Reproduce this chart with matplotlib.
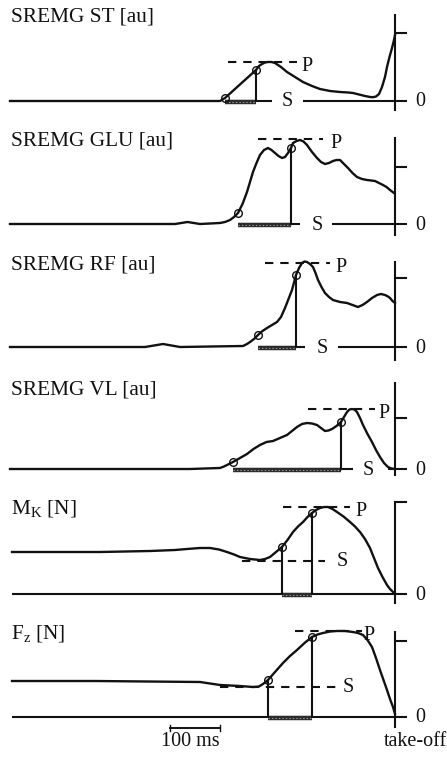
import numpy as np
import matplotlib
matplotlib.use("Agg")
import matplotlib.pyplot as plt

plt.rcParams['font.family'] = ['Liberation Serif', 'DejaVu Serif']
plt.rcParams['mathtext.fontset'] = 'custom'
plt.rcParams['mathtext.rm'] = 'Liberation Serif'
plt.rcParams['lines.scale_dashes'] = False

# ---------------- data (time in ms relative to take-off) ----------------
titles = ["SREMG ST [au]", "SREMG GLU [au]", "SREMG RF [au]", "SREMG VL [au]",
          r"M$_{\mathrm{K}}$ [N]", r"F$_{\mathrm{z}}$ [N]"]

st_t = [-770, -350, -340, -278, -272, -266, -260, -254, -247, -240, -228, -216, -200, -184, -166, -150,
        -130, -110, -94, -84, -72, -60, -50, -44, -38, -32, -26, -20, -16, -11, -6, -2, 0]
st_v = [0, 0, 3, 31, 35, 37, 38.5, 39, 39, 38, 34, 29, 24, 19, 15, 12,
        10, 9, 8.5, 8, 6.5, 5, 4, 3.8, 4.5, 7, 14, 24, 34, 44, 53, 61, 66]

glu_t = [-770, -440, -415, -390, -350, -340, -330, -322, -314, -305, -296, -290, -284, -277, -270, -262,
         -254, -247, -240, -233, -226, -220, -214, -208, -204, -197, -190, -183, -176, -166, -156, -148,
         -140, -132, -124, -117, -110, -102, -94, -85, -76, -66, -56, -48, -40, -32, -24, -17, -10, -2]
glu_v = [0, 0, 2, 0, 1, 2, 4, 7, 11, 20, 32, 42, 52, 61, 69, 74,
         76, 74, 71, 68, 66, 67, 71, 76, 81, 83, 84, 82.5, 79, 72, 66, 62,
         60, 61, 63, 64, 64, 60, 56, 51, 47, 45, 44, 43.5, 43, 41, 39, 37, 34, 31]

rf_t = [-770, -500, -464, -430, -304, -296, -290, -282, -274, -265, -256, -246, -236, -228, -220, -213,
        -206, -198, -192, -186, -181, -176, -170, -164, -159, -154, -147, -140, -132, -124, -110, -96,
        -85, -74, -65, -56, -46, -36, -28, -20, -14, -10, -5, 0]
rf_v = [0, 0, 3, 0, 1, 3, 5, 8, 12, 16, 19, 22, 25, 30, 39, 48,
        57, 72, 79, 84, 85.5, 85, 83, 80, 74, 67, 60, 54, 50, 47, 45, 44,
        42, 40, 42, 45, 49, 52, 53, 52, 50.5, 49, 46, 44]

vl_t = [-770, -410, -350, -342, -336, -324, -310, -296, -283, -270, -257, -244, -230, -216, -206, -196,
        -186, -176, -166, -156, -148, -140, -133, -126, -117, -108, -102, -96, -91, -86, -81, -76,
        -70, -64, -55, -46, -38, -30, -22, -14, -7, 0]
vl_v = [0, 0, 1, 2.5, 4, 7, 11, 15, 20, 24, 27, 28, 31, 34, 38, 42,
        45, 46, 45.5, 44, 41, 38, 38.5, 40, 43, 47, 52, 57, 59.5, 60, 59.5, 57,
        51, 44, 35, 27, 19, 12, 6, 2, 0.5, 0]

mk_t = [-766, -590, -490, -440, -416, -390, -370, -352, -336, -322, -310, -290, -270, -260, -250, -238,
        -226, -215, -204, -194, -184, -175, -166, -158, -150, -142, -134, -125, -116, -103, -90, -80,
        -70, -60, -50, -42, -34, -25, -16, -10, -4, 0]
mk_v = [42, 42, 43, 44, 45, 46, 46, 44.5, 42, 39.5, 37, 35, 34, 35, 37, 42,
        47, 54, 62, 67.5, 72, 77, 81, 84, 86, 87, 87, 85, 82, 77.5, 72, 67.5,
        62, 55, 46, 36, 26, 17, 9, 5, 2, 0]

fz_t = [-766, -600, -390, -370, -350, -330, -310, -284, -272, -264, -254, -240, -224, -210, -196, -181,
        -166, -155, -144, -130, -116, -100, -84, -74, -64, -55, -46, -38, -30, -23, -16, -10, -4, 0]
fz_v = [36, 36, 35, 33.5, 32, 31.5, 31, 30, 30.5, 33, 37, 45, 54, 61, 67, 74,
        80, 82.5, 84, 85.5, 86, 86, 85, 84, 82, 77, 70, 59, 47, 37, 27, 18, 10, 3]

series_t = [st_t, glu_t, rf_t, vl_t, mk_t, fz_t]
series_v = [st_v, glu_v, rf_v, vl_v, mk_v, fz_v]

onset_ms = [-340, -314, -274, -324, -226, -254]     # S crossing
peak_ms = [-278, -208, -198, -108, -166, -166]      # P crossing
s_level = [0, 0, 0, 0, 33, 30]
p_level = [39, 85, 84, 60, 87, 86]
tick_level = [68, 57, 69, 51, 92, 76]
axis_top = [86, 86, 85, 86, 92, 85]
axis_bottom = [-9, -11, -13, -6, -9, -10]

# ---------------- layout ----------------
W, H = 447, 761
baselines_px = [101, 224, 347, 469, 594, 717]
p_dash = [(-334, -196), (-274, -144), (-260, -130), (-174, -40), (-224, -90), (-200, -66)]
p_lab = [-176, -118, -108, -22, -68, -52]
s_end = [-246, -190, -180, -84, -140, -116]
s_start_force = [None, None, None, None, -306, -350]
s_lab = [-216, -156, -146, -54, -106, -94]
zero_start = [-184, -126, -114, -14, -766, -766]
title_y = [84, 83, 82, 79, 85, 83]

fig = plt.figure(figsize=(W / 100, H / 100), dpi=100)
ink = '#111111'
FS = 14.5
FT = 15.3

for i in range(6):
    b = baselines_px[i]
    top, bot = b - 110, b + 40
    ax = fig.add_axes([0, 1 - bot / H, 1, (bot - top) / H])
    ax.set_xlim(-790, 104)
    ax.set_ylim(-40, 110)
    ax.axis('off')

    t = np.array(series_t[i], float)
    v = np.array(series_v[i], float)
    force = s_start_force[i] is not None

    # zero line
    ax.plot([zero_start[i], 24], [0, 0], color=ink, lw=1.5, solid_capstyle='butt')
    # S line
    if force:
        ax.plot([s_start_force[i], s_end[i]], [s_level[i], s_level[i]], color=ink, lw=1.5,
                dashes=(6, 5))
    else:
        ax.plot([onset_ms[i], s_end[i]], [0, 0], color=ink, lw=1.5, solid_capstyle='butt')
    # P dashed line
    ax.plot(list(p_dash[i]), [p_level[i], p_level[i]], color=ink, lw=1.5, dashes=(6, 5))
    # thick bar between S and P crossing
    ax.plot([onset_ms[i], peak_ms[i]], [-1, -1], color='#2b2b2b', lw=3.2, solid_capstyle='butt')
    ax.plot([onset_ms[i], peak_ms[i]], [-1, -1], color='#9a9a9a', lw=0.8, dashes=(1, 1.5))
    # vertical lines from crossings to zero
    yo = np.interp(onset_ms[i], t, v)
    yp = np.interp(peak_ms[i], t, v)
    if force:
        ax.plot([onset_ms[i], onset_ms[i]], [0, yo], color=ink, lw=1.5)
    ax.plot([peak_ms[i], peak_ms[i]], [0, yp], color=ink, lw=1.5)
    # signal
    ax.plot(t, v, color=ink, lw=1.7, solid_joinstyle='round')
    # circles
    ax.plot([onset_ms[i], peak_ms[i]], [yo, yp], 'o', ms=5.5, mfc='none', mec=ink, mew=1.0)
    # vertical axis at take-off
    ax.plot([0, 0], [axis_bottom[i], axis_top[i]], color=ink, lw=1.5)
    ax.plot([0, 22], [tick_level[i], tick_level[i]], color=ink, lw=1.5)
    # labels
    ax.text(p_lab[i], p_level[i] - 4.5, "P", fontsize=FS, ha='center', va='center', color=ink)
    ax.text(s_lab[i], s_level[i] - 1, "S", fontsize=FS, ha='center', va='center', color=ink)
    ax.text(50, -1, "0", fontsize=FS, ha='center', va='center', color=ink)
    ax.text(-768, title_y[i], titles[i], fontsize=FT, ha='left', va='center', color=ink)

    if i == 5:
        ax.plot([-450, -350], [-11, -11], color=ink, lw=1.4)
        ax.plot([-450, -450], [-8, -14], color=ink, lw=1.0)
        ax.plot([-350, -350], [-8, -14], color=ink, lw=1.0)
        ax.text(-410, -24, "100 ms", fontsize=FS, ha='center', va='center', color=ink)
        ax.text(40, -24, "take-off", fontsize=FS, ha='center', va='center', color=ink)

fig.savefig("out.png", dpi=100, facecolor='white')
